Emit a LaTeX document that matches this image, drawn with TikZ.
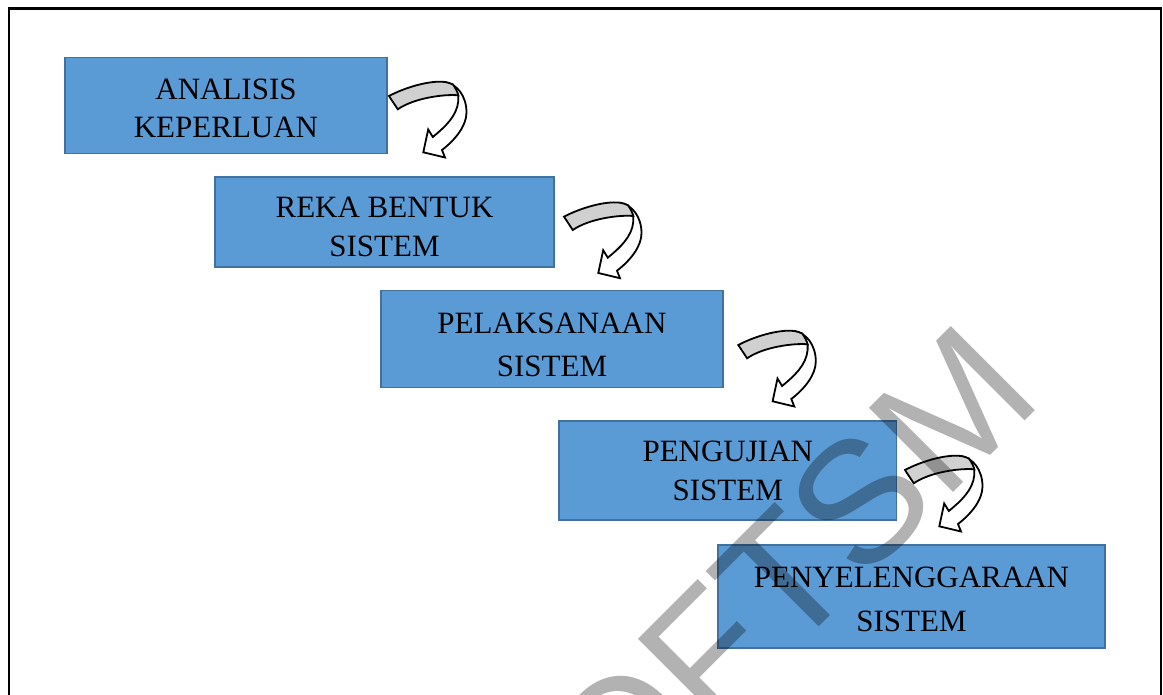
\documentclass[tikz,border=0pt]{standalone}
\usepackage{fontspec}
\setmainfont{Liberation Serif}
\newfontfamily\wmfont{Liberation Sans}
\definecolor{boxfill}{HTML}{5B9BD5}
\definecolor{boxline}{HTML}{41719C}
\definecolor{bandgrey}{HTML}{D0D0D0}
\tikzset{
  stepbox/.style={draw=boxline, line width=1.5pt, fill=boxfill, inner sep=0pt},
  boxtext/.style={font=\fontsize{31}{38}\selectfont, align=center, inner sep=0pt, text=black},
  wmark/.style={font=\wmfont\fontsize{173}{173}\selectfont, text=black, text opacity=0.3, rotate=45, inner sep=0pt, anchor=base west},
  turnarrow/.pic={
    \path[draw=black, line width=1.8pt, fill=white]
      (56,-14) .. controls (68,-12) and (77.5,0) .. (77.5,16.5)
      .. controls (77.5,30) and (66,44) .. (53,54)
      -- (56,61.5) -- (34.3,56.3) -- (39.2,33.5) -- (43.8,41)
      .. controls (56,31) and (68,20) .. (69.3,5)
      -- (69.3,-0.7) -- (64,-11.4) -- cycle;
    \path[draw=black, line width=1.8pt, fill=bandgrey]
      (0,0) .. controls (15,-8) and (40,-16) .. (56,-14)
      .. controls (59,-13.5) and (62,-12.5) .. (64,-11.4)
      .. controls (66.5,-8) and (68.5,-4) .. (69.3,-0.7)
      .. controls (55,-2) and (25,2) .. (8.8,13.3) -- cycle;
  }
}
\begin{document}
\begin{tikzpicture}[x=1pt,y=-1pt]
\useasboundingbox (0,0) rectangle (1163,695);
\fill[white] (0,0) rectangle (1163,695);
\clip (0,0) rectangle (1163,695);

% frame
\draw[line width=2.5pt] (9,700) -- (9,8.3) -- (1161,8.3) -- (1161,700);

% boxes
\node[stepbox, minimum width=322pt, minimum height=96pt] (b1) at (226,105.3) {};
\node[stepbox, minimum width=339pt, minimum height=90pt] (b2) at (384.5,222) {};
\node[stepbox, minimum width=342pt, minimum height=96.5pt] (b3) at (552,339) {};
\node[stepbox, minimum width=337.7pt, minimum height=99pt] (b4) at (727.8,470.5) {};
\node[stepbox, minimum width=387pt, minimum height=103pt] (b5) at (911.5,596.5) {};

% texts
\node[boxtext] (t1) at (226,108.75) {ANALISIS\\KEPERLUAN};
\node[boxtext] (t2) at (384.5,227.25) {REKA BENTUK\\[1pt]SISTEM};
\node[boxtext] (t3) at (552,345.25) {PELAKSANAAN\\[5pt]SISTEM};
\node[boxtext] (t4) at (727.8,471.25) {PENGUJIAN\\[1pt]SISTEM};
\node[boxtext] (t5) at (911.5,599.75) {PENYELENGGARAAN\\[6pt]SISTEM};

% curved arrows
\coordinate (a1) at (389,96);
\coordinate (a2) at (564,216.7);
\coordinate (a3) at (738.3,345);
\coordinate (a4) at (905,470);
\pic at (a1) {turnarrow};
\pic at (a2) {turnarrow};
\pic at (a3) {turnarrow};
\pic at (a4) {turnarrow};

% watermark
\node[wmark] (wm) at (617,829) {OFTSM};
\end{tikzpicture}
\end{document}
